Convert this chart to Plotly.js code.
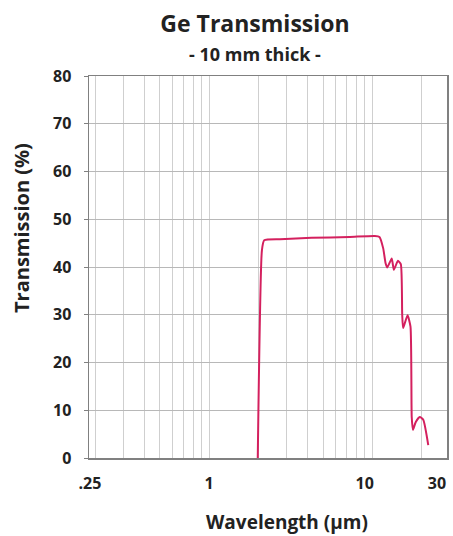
<!DOCTYPE html>
<html>
<head>
<meta charset="utf-8">
<script src="https://cdn.plot.ly/plotly-3.0.1.min.js"></script>
<style>html,body{margin:0;padding:0;background:#fff;}#chart{width:453px;height:536px;}</style>
</head>
<body>
<div id="chart"></div>
<script>
// Wavelength in micrometres, transmission in percent
const wavelength = [1.99, 2.11, 2.18, 2.72, 4.25, 7.3, 10.4, 11.1, 11.7, 12.1, 12.4, 13.2, 13.6, 14.4, 15.0, 15.3, 15.5, 16.5, 17.2, 17.5, 17.8, 18.5, 19.6, 20.6, 22.1];
const transmission = [0, 43.5, 45.6, 45.8, 46.1, 46.3, 46.5, 46.3, 43.9, 40.8, 39.9, 41.8, 39.4, 41.3, 40.6, 30, 27.2, 29.9, 27.5, 8.6, 5.9, 7.5, 8.6, 8.0, 2.7];

// Vertical grid lines (log decades)
const gridValues = [0.2, 0.3, 0.4, 0.5, 0.6, 0.7, 0.8, 0.9, 1, 2, 3, 4, 5, 6, 7, 8, 9, 10, 20];
// Printed wavelength labels and where the reference prints them
const xTickLabels = ['.25', '1', '10', '30'];
const xTickValues = [0.186, 1, 9.0, 25];
const yTickValues = [0, 10, 20, 30, 40, 50, 60, 70, 80];

const titleText = 'Ge Transmission';
const subtitleText = '- 10 mm thick -';
const xTitleText = 'Wavelength (µm)';
const yTitleText = 'Transmission (%)';

const xRange = [Math.log10(0.1836), Math.log10(28.8)];
const FONT = 'Open Sans, Liberation Sans, sans-serif';
const INK = '#222';

const trace = {
  x: wavelength,
  y: transmission,
  type: 'scatter',
  mode: 'lines',
  line: {color: '#d4205e', width: 2, shape: 'spline', smoothing: 0.5},
  hoverinfo: 'x+y',
  showlegend: false
};
const labelTrace = {
  x: [xTickValues[1]], y: [0], xaxis: 'x2', type: 'scatter', mode: 'markers',
  marker: {opacity: 0}, showlegend: false, hoverinfo: 'skip'
};

const layout = {
  width: 453, height: 536,
  margin: {l: 89, r: 6, t: 76, b: 78},
  paper_bgcolor: '#ffffff', plot_bgcolor: '#ffffff',
  font: {family: FONT, color: INK},
  title: {
    text: titleText,
    font: {family: FONT, size: 23, weight: 'bold', color: INK},
    xref: 'container', x: 255 / 453, xanchor: 'center',
    yref: 'container', y: 1 - 24 / 536, yanchor: 'middle'
  },
  annotations: [
    {text: subtitleText, xref: 'paper', yref: 'paper', x: (255 - 89) / 358, y: (458 - 54) / 382,
     xanchor: 'center', yanchor: 'middle', showarrow: false,
     font: {family: FONT, size: 18, weight: 'bold', color: INK}},
    {text: xTitleText, xref: 'paper', yref: 'paper', x: (287 - 89) / 358, y: (458 - 522) / 382,
     xanchor: 'center', yanchor: 'middle', showarrow: false,
     font: {family: FONT, size: 19, weight: 'bold', color: INK}},
    {text: yTitleText, xref: 'paper', yref: 'paper', x: (21 - 89) / 358, y: (458 - 228) / 382,
     xanchor: 'center', yanchor: 'middle', textangle: -90, showarrow: false,
     font: {family: FONT, size: 20, weight: 'bold', color: INK}}
  ],
  xaxis: {
    type: 'log', range: xRange,
    tickmode: 'array', tickvals: gridValues, ticktext: gridValues.map(() => ''),
    showgrid: true, gridcolor: '#cfcfcf', gridwidth: 1,
    ticks: '', showline: true, linecolor: '#808080', linewidth: 1.5, mirror: true,
    zeroline: false, fixedrange: true
  },
  xaxis2: {
    type: 'log', range: xRange, overlaying: 'x', side: 'bottom',
    tickmode: 'array', tickvals: xTickValues, ticktext: xTickLabels,
    showgrid: false, ticks: '', showline: false, zeroline: false,
    ticklabelstandoff: 14,
    tickfont: {family: FONT, size: 16, weight: 'bold', color: INK},
    fixedrange: true
  },
  yaxis: {
    range: [0, 80], tickmode: 'array', tickvals: yTickValues,
    showgrid: true, gridcolor: '#b8b8b8', gridwidth: 1,
    ticks: 'outside', ticklen: 4, tickcolor: '#808080',
    showline: true, linecolor: '#808080', linewidth: 1.5, mirror: true,
    zeroline: false, fixedrange: true,
    ticklabelstandoff: 9,
    tickfont: {family: FONT, size: 16, weight: 'bold', color: INK}
  }
};

Plotly.newPlot('chart', [trace, labelTrace], layout, {displayModeBar: false, staticPlot: true});
</script>
</body>
</html>
